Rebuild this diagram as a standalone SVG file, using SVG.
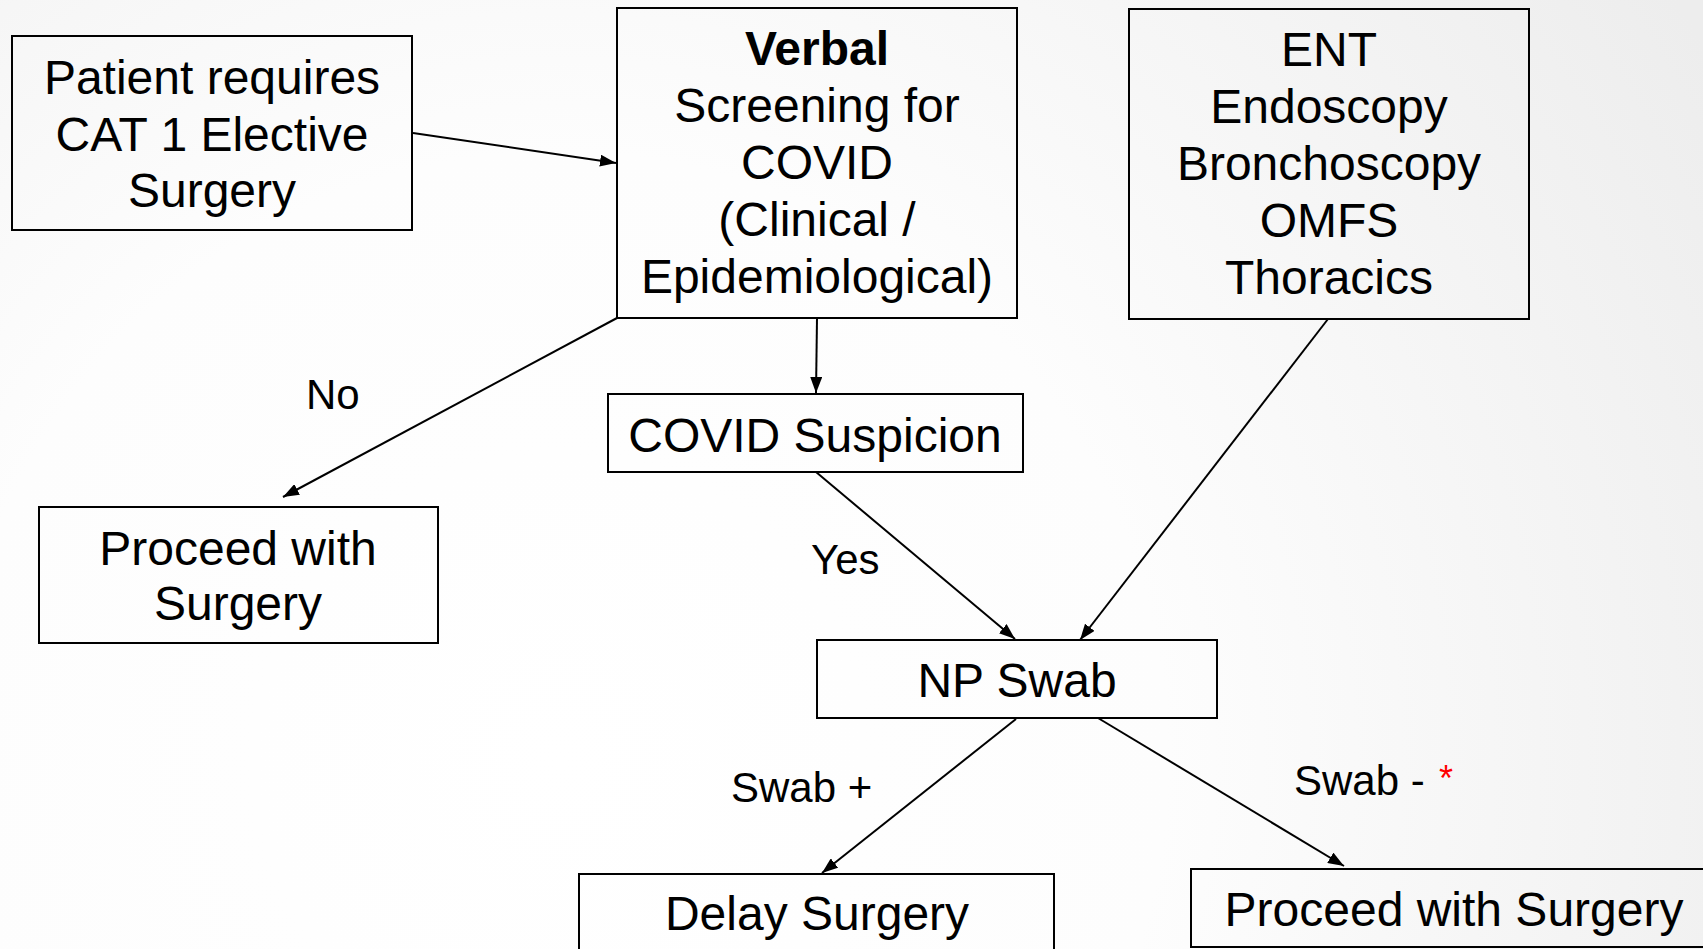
<svg xmlns="http://www.w3.org/2000/svg" width="1703" height="949" viewBox="0 0 1703 949">
  <style>
    .box { fill: none; stroke: #000; stroke-width: 2; }
    .t { font-family: "Liberation Sans", Arial, sans-serif; font-size: 48px; fill: #000; text-anchor: middle; }
    .lbl { font-family: "Liberation Sans", Arial, sans-serif; font-size: 42px; fill: #000; }
    .star { font-family: "Liberation Sans", Arial, sans-serif; font-size: 36px; fill: #ff0000; }
    .edge { fill: none; stroke: #000; stroke-width: 2; marker-end: url(#arrow); }
  </style>
  <defs>
    <radialGradient id="bg" cx="560" cy="760" r="1350" gradientUnits="userSpaceOnUse">
      <stop offset="0" stop-color="#ffffff"/>
      <stop offset="0.45" stop-color="#fdfdfd"/>
      <stop offset="1" stop-color="#ededed"/>
    </radialGradient>
    <marker id="arrow" viewBox="0 0 16 12" refX="16" refY="6" markerWidth="16" markerHeight="12" markerUnits="userSpaceOnUse" orient="auto">
      <path d="M0,0 L16,6 L0,12 Z" fill="#000"/>
    </marker>
  </defs>

  <rect x="0" y="0" width="1703" height="949" fill="url(#bg)"/>

  <!-- connectors -->
  <g id="connectors">
    <line class="edge" x1="413" y1="133" x2="616" y2="163"/>
    <line class="edge" x1="617" y1="318" x2="283" y2="497"/>
    <line class="edge" x1="817" y1="318" x2="816" y2="393"/>
    <line class="edge" x1="816" y1="472" x2="1015" y2="639"/>
    <line class="edge" x1="1328" y1="319" x2="1080" y2="640"/>
    <line class="edge" x1="1016" y1="719" x2="822" y2="873"/>
    <line class="edge" x1="1098" y1="718" x2="1344" y2="866"/>
  </g>

  <g id="patient">
    <rect class="box" x="12" y="36" width="400" height="194"/>
    <text class="t" x="212" y="94">Patient requires</text>
    <text class="t" x="212" y="151">CAT 1 Elective</text>
    <text class="t" x="212" y="207">Surgery</text>
  </g>

  <g id="verbal">
    <rect class="box" x="617" y="8" width="400" height="310"/>
    <text class="t" x="817" y="65" font-weight="bold">Verbal</text>
    <text class="t" x="817" y="122">Screening for</text>
    <text class="t" x="817" y="179">COVID</text>
    <text class="t" x="817" y="236">(Clinical /</text>
    <text class="t" x="817" y="293">Epidemiological)</text>
  </g>

  <g id="specialties">
    <rect class="box" x="1129" y="9" width="400" height="310"/>
    <text class="t" x="1329" y="66">ENT</text>
    <text class="t" x="1329" y="123">Endoscopy</text>
    <text class="t" x="1329" y="180">Bronchoscopy</text>
    <text class="t" x="1329" y="237">OMFS</text>
    <text class="t" x="1329" y="294">Thoracics</text>
  </g>

  <g id="proceed-left">
    <rect class="box" x="39" y="507" width="399" height="136"/>
    <text class="t" x="238" y="565">Proceed with</text>
    <text class="t" x="238" y="620">Surgery</text>
  </g>

  <g id="suspicion">
    <rect class="box" x="608" y="394" width="415" height="78"/>
    <text class="t" x="815" y="452">COVID Suspicion</text>
  </g>

  <g id="swab">
    <rect class="box" x="817" y="640" width="400" height="78"/>
    <text class="t" x="1017" y="697">NP Swab</text>
  </g>

  <g id="delay">
    <rect class="box" x="579" y="874" width="475" height="100"/>
    <text class="t" x="817" y="930">Delay Surgery</text>
  </g>

  <g id="proceed-right">
    <rect class="box" x="1191" y="869" width="526" height="78"/>
    <text class="t" x="1454" y="926">Proceed with Surgery</text>
  </g>

  <g id="labels">
    <text class="lbl" x="306" y="409">No</text>
    <text class="lbl" x="811" y="574">Yes</text>
    <text class="lbl" x="731" y="802">Swab +</text>
    <text class="lbl" x="1294" y="795">Swab -</text>
    <text class="star" x="1439" y="791">*</text>
  </g>
</svg>
